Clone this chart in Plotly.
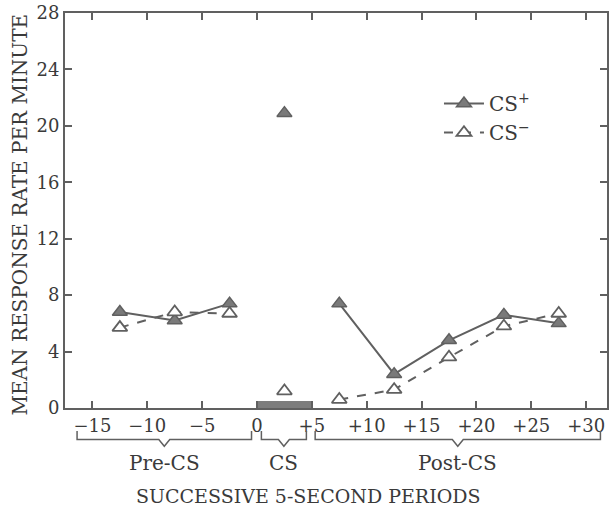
import plotly.graph_objects as go

# ---- data ----
periods_pre = [-12.5, -7.5, -2.5]
periods_cs = [2.5]
periods_post = [7.5, 12.5, 17.5, 22.5, 27.5]

cs_plus_pre = [6.8, 6.2, 7.4]
cs_plus_cs = [20.9]
cs_plus_post = [7.4, 2.4, 4.8, 6.6, 6.0]

cs_minus_pre = [5.7, 6.8, 6.7]
cs_minus_cs = [1.2]
cs_minus_post = [0.6, 1.3, 3.6, 5.8, 6.7]

x_tick_vals = [-15, -10, -5, 0, 5, 10, 15, 20, 25, 30]
x_tick_text = ["\u221215", "\u221210", "\u22125", "0", "+5", "+10", "+15", "+20", "+25", "+30"]
y_tick_vals = [0, 4, 8, 12, 16, 20, 24, 28]

cs_period = [0, 5]
cs_bar_height = 0.5

phase_names = ["Pre-CS", "CS", "Post-CS"]
phase_spans = [(-16.4, -0.5), (0.4, 4.5), (5.3, 31.3)]

FONT = "DejaVu Serif"
TXT = "#3a3a3a"
LINE = "#606060"
FILL = "#7a7a7a"


def join(*segs):
    out = []
    for i, s in enumerate(segs):
        if i:
            out.append(None)
        out.extend(s)
    return out


x_all = join(periods_pre, periods_cs, periods_post)
fig = go.Figure()
fig.add_trace(go.Scatter(
    x=x_all, y=join(cs_plus_pre, cs_plus_cs, cs_plus_post),
    mode="lines+markers", name="CS<sup>+</sup>",
    line=dict(color=LINE, width=2),
    marker=dict(symbol="triangle-up", size=13, color=FILL,
                line=dict(color=LINE, width=1.5)),
))
fig.add_trace(go.Scatter(
    x=x_all, y=join(cs_minus_pre, cs_minus_cs, cs_minus_post),
    mode="lines+markers", name="CS<sup>\u2212</sup>",
    line=dict(color=LINE, width=2, dash="dash"),
    marker=dict(symbol="triangle-up", size=13, color="white",
                line=dict(color=LINE, width=1.8)),
))

# CS period bar
fig.add_shape(type="rect", xref="x", yref="y",
              x0=cs_period[0], x1=cs_period[1], y0=0, y1=cs_bar_height,
              fillcolor="#7d7d7d", line=dict(width=0), layer="below")

# braces and phase labels
y_top, y_mid, y_tip = -0.058, -0.08, -0.097
for name, (a, b) in zip(phase_names, phase_spans):
    m = (a + b) / 2
    d = 0.5
    path = (f"M {a},{y_top} L {a},{y_mid} L {m - d},{y_mid} L {m},{y_tip} "
            f"L {m + d},{y_mid} L {b},{y_mid} L {b},{y_top}")
    fig.add_shape(type="path", xref="x", yref="paper", path=path,
                  line=dict(color=LINE, width=1.5))
    fig.add_annotation(x=m, y=-0.138, xref="x", yref="paper", text=name,
                       showarrow=False, font=dict(family=FONT, size=20, color=TXT),
                       yanchor="middle")

fig.add_annotation(x=0.45, y=-0.222, xref="paper", yref="paper",
                   text="SUCCESSIVE 5-SECOND PERIODS", showarrow=False,
                   xanchor="center", yanchor="middle",
                   font=dict(family=FONT, size=19, color=TXT))
fig.add_annotation(x=-0.083, y=0.49, xref="paper", yref="paper",
                   text="MEAN RESPONSE RATE PER MINUTE", showarrow=False,
                   textangle=-90, xanchor="center", yanchor="middle",
                   font=dict(family=FONT, size=20, color=TXT))

fig.update_layout(
    width=611, height=510,
    margin=dict(l=65, r=2, t=10, b=102),
    paper_bgcolor="white", plot_bgcolor="white",
    showlegend=True,
    legend=dict(x=0.69, y=0.82, xanchor="left", yanchor="top",
                bgcolor="rgba(0,0,0,0)", font=dict(family=FONT, size=20, color=TXT),
                itemwidth=40, tracegroupgap=2),
    font=dict(family=FONT, color=TXT),
)
fig.update_xaxes(range=[-17.5, 31.9], tickvals=x_tick_vals, ticktext=x_tick_text,
                 ticks="inside", ticklen=7, tickwidth=1.5, tickcolor=LINE,
                 showline=True, linecolor=LINE, linewidth=2, mirror="ticks",
                 showgrid=False, zeroline=False, ticklabeloverflow="allow",
                 tickfont=dict(family=FONT, size=18, color=TXT))
fig.update_yaxes(range=[0, 28], tickvals=y_tick_vals,
                 ticks="inside", ticklen=7, tickwidth=1.5, tickcolor=LINE,
                 showline=True, linecolor=LINE, linewidth=2, mirror="ticks",
                 showgrid=False, zeroline=False, ticklabeloverflow="allow",
                 tickfont=dict(family=FONT, size=18, color=TXT))

fig.write_html("out.html",
               config={"displayModeBar": False},
               post_script="document.body.style.margin='0';"
                           "document.body.style.overflow='hidden';")
